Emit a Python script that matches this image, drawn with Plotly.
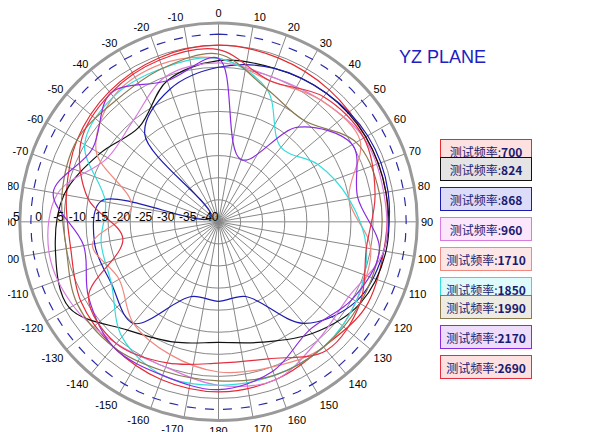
import plotly.graph_objects as go

angles = [-180,-160,-140,-120,-100,-80,-60,-40,-20,0,20,40,60,80,100,120,140,160,180]
freqs = ["700","824","868","960","1710","1850","1990","2170","2690"]
gain_700  = [-1.5,-2,-3,-4,-6,-5,-3,-1.5,-0.5,0,-0.5,-1,-1.5,-1.5,-2,-1.5,-3,-2,-1.5]
gain_824  = [-12.7,-11,-8,-1,-2.5,-4.5,-9,-12,-6,-3.5,-3,-2,-1.5,-1.5,-1.5,-3,-7,-11,-12.7]
gain_868  = [-22,-22,-10,-12,-11.5,-13,-38,-14,-8,-5,-3,-2,-1,-1,-2,-4,-10,-22,-22]
gain_960  = [-3,-5,-4,-2,-1,-3,-11,-10,-5,-4,-5,-4,-2,-2,-2,-6,-5,-2,-3]
gain_1710 = [-6,-8,-10,-14,-11,-20,-8,-3,-2,-3,-6,-4,-3,-10,-5,-4,-3,-5,-6]
gain_1850 = [-3,-3,-6,-12,-13,-14,-5,-3,-3,-3,-8,-18,-14,-10,-6,-4,-3,-3,-3]
gain_1990 = [-4,-4,-3,-3,-5,-4,-3,-4,-3,-2,-8,-10,-4,-3,-3,-3,-3,-3,-4]
gain_2170 = [-2,-3,-3,-6,-9,-2,-7,-2,-6,-3,-25,-12,-5,-8,-3,-5,-8,-4,-2]
gain_2690 = [-8,-6,-4,-6,-18,-10,-4,-2,-1,-1,-6,-3,-2,-4,-6,-3,-2,-7,-8]
gains = [gain_700,gain_824,gain_868,gain_960,gain_1710,gain_1850,gain_1990,gain_2170,gain_2690]
colors = ["#e52a30","#111111","#1c1cb0","#d97ae0","#f08a80","#33dddd","#8c7a50","#8a2be2","#e23040"]
fills = ["#fde0e0","#e4e4e4","#dcdcf8","#fbe6fb","#fde6e6","#dffafa","#eeebe2","#eedcfb","#fde0e0"]
tick_vals = list(range(0,360,10))
tick_text = [str(v if v <= 180 else v-360) for v in tick_vals]
r_ticks = list(range(-40,10,5))

fig = go.Figure()
fig.add_trace(go.Scatterpolar(r=[2.5]*73, theta=list(range(0,361,5)), mode="lines",
    line=dict(color="#2a2aa8", width=1.2, dash="dash"), showlegend=False, hoverinfo="skip"))
for f,g,c in zip(freqs,gains,colors):
    fig.add_trace(go.Scatterpolar(r=g, theta=angles, mode="lines", name=f,
        line=dict(color=c, width=1.2, shape="spline", smoothing=1), showlegend=False))

fig.update_layout(
    width=593, height=432, margin=dict(l=0,r=0,t=0,b=0), paper_bgcolor="white",
    polar=dict(domain=dict(x=[0.01,0.7], y=[0.045,0.965]), bgcolor="white",
        angularaxis=dict(rotation=90, direction="clockwise", tickmode="array",
            tickvals=tick_vals, ticktext=tick_text, gridcolor="#888", gridwidth=1,
            linecolor="#999", linewidth=3, ticks="", tickfont=dict(family="Liberation Sans", size=11, color="black")),
        radialaxis=dict(range=[-40,5], tickvals=r_ticks, ticktext=[str(v) for v in r_ticks],
            angle=180, tickangle=180, gridcolor="#888", showline=False, ticks="",
            tickfont=dict(family="Liberation Sans", size=12, color="black"))),
    font=dict(family="Noto Sans CJK SC"),
)
fig.add_annotation(x=480/593, y=1-37/432, xref="paper", yref="paper", text="YZ PLANE",
    showarrow=False, font=dict(family="Liberation Sans", size=18, color="#2020c0"))
for i,(f,c,fl) in enumerate(zip(freqs,colors,fills)):
    yc = 131 + 30*i
    fig.add_annotation(x=524/593, y=1-yc/432, xref="paper", yref="paper",
        text="测试频率:<b>"+f+"</b>", showarrow=False, bgcolor=fl, bordercolor=c,
        borderwidth=1, borderpad=2, width=86, height=18,
        font=dict(family="Noto Sans CJK SC", size=12, color="#1a1a70"))
fig.write_html("out.html")
